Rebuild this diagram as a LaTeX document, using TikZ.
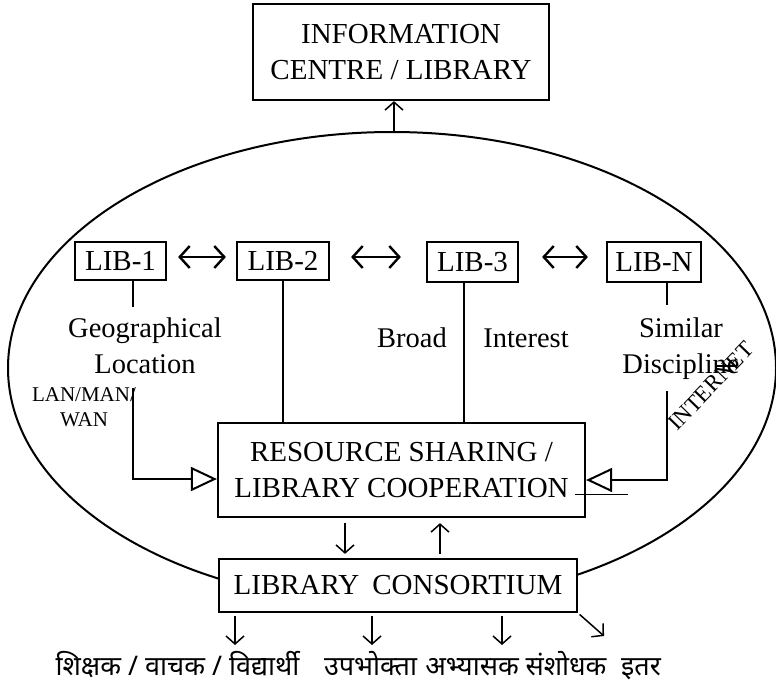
\documentclass[tikz,border=0pt]{standalone}
\usepackage{fontspec}
\setmainfont{Liberation Serif}
\newfontfamily\deva[Script=Devanagari]{Noto Sans}
\usetikzlibrary{arrows.meta}
\begin{document}
\begin{tikzpicture}[x=1pt,y=-1pt,
  box/.style={draw,line width=2.2pt,fill=white,inner sep=0pt,align=center,font=\fontsize{29}{36}\selectfont},
  lbl/.style={inner sep=0pt,anchor=base,font=\fontsize{28.5}{34}\selectfont},
  small/.style={inner sep=0pt,anchor=base,font=\fontsize{21}{25}\selectfont},
  dev/.style={inner sep=0pt,anchor=base,font=\deva\fontsize{27}{32}\selectfont},
  lnk/.style={line width=2pt},
  arr/.style={line width=1.5pt,-{Straight Barb[length=8pt,width=18pt]}},
  dbl/.style={line width=2.4pt,{Straight Barb[length=10pt,width=22pt]}-{Straight Barb[length=10pt,width=22pt]}},
  tri/.style={line width=2pt,-{Triangle[open,length=26pt,width=24pt]}}]
\useasboundingbox (0,0) rectangle (776,685);
\draw[line width=2pt] (392,368) ellipse [x radius=384, y radius=236];

\node[box,minimum width=296pt,minimum height=96pt] (info) at (401,52) {INFORMATION\\CENTRE / LIBRARY};
\node[box,minimum width=91pt,minimum height=38pt] (lib1) at (120.5,261) {LIB-1};
\node[box,minimum width=92pt,minimum height=38pt] (lib2) at (283,261) {LIB-2};
\node[box,minimum width=91pt,minimum height=40pt] (lib3) at (472.5,262) {LIB-3};
\node[box,minimum width=94pt,minimum height=40pt] (libn) at (654,262) {LIB-N};
\node[box,minimum width=367pt,minimum height=94pt] (rs) at (401.5,470) {RESOURCE SHARING /\\LIBRARY COOPERATION};
\node[box,minimum width=358pt,minimum height=53pt] (cons) at (398,585.5) {LIBRARY\hspace{0.2em} CONSORTIUM};

\node[lbl] (geo1) at (145,337) {Geographical};
\node[lbl] (geo2) at (145,373) {Location};
\node[lbl] (broad) at (412,347) {Broad};
\node[lbl] (inter) at (526,347) {Interest};
\node[lbl] (sim1) at (681,337) {Similar};
\node[lbl] (sim2) at (681,373) {Discipline};
\node[small] (lan1) at (84,401) {LAN/MAN/};
\node[small] (lan2) at (84,426) {WAN};
\node[small,font=\fontsize{23}{26}\selectfont,anchor=center,rotate=46] (inet) at (711,386) {INTERNET};

\node[dev] (d1) at (177.5,675) {शिक्षक / वाचक / विद्यार्थी};
\node[dev] (d2) at (370.5,675) {उपभोक्ता};
\node[dev] (d3) at (472,675) {अभ्यासक};
\node[dev] (d4) at (566,675) {संशोधक};
\node[dev] (d5) at (641,675) {इतर};

\coordinate (etop) at (394,132);
\draw[arr] (etop) -- (info.south -| etop);

\draw[dbl] ([xshift=11pt,yshift=4pt]lib1.east) -- ([xshift=-10pt,yshift=4pt]lib2.west);
\draw[dbl] ([xshift=21pt,yshift=4pt]lib2.east) -- ([xshift=-25pt,yshift=5pt]lib3.west);
\draw[dbl] ([xshift=23pt,yshift=5pt]lib3.east) -- ([xshift=-18pt,yshift=5pt]libn.west);

\coordinate (g1) at (133,307);
\draw[lnk] (lib1.south -| g1) -- (g1);
\draw[lnk] (lib2.south) -- (rs.north -| lib2.south);
\coordinate (l3) at (464,0);
\draw[lnk] (lib3.south -| l3) -- (rs.north -| l3);
\coordinate (gn) at (667,305);
\draw[lnk] (libn.south -| gn) -- (gn);

\coordinate (lt) at (133,388);
\coordinate (lc) at (133,479);
\draw[tri] (lt) -- (lc) -- (rs.west |- lc);
\coordinate (rt) at (667,391);
\coordinate (rc) at (667,480);
\draw[tri] (rt) -- (rc) -- (rs.east |- rc);

\coordinate (s1) at (575,494);
\coordinate (s2) at (628,494);
\draw[line width=1pt] (s1) -- (s2);
\coordinate (s3) at (715,366);
\coordinate (s4) at (737,366);
\draw[line width=1.5pt] (s3) -- (s4);

\coordinate (m1) at (345,0);
\coordinate (m2) at (440,0);
\draw[arr,shorten <=5pt,shorten >=4pt] (rs.south -| m1) -- (cons.north -| m1);
\draw[arr,shorten <=4pt,shorten >=5pt] (cons.north -| m2) -- (rs.south -| m2);

\coordinate (b1) at (235,645);
\coordinate (b2) at (372,645);
\coordinate (b3) at (502,645);
\coordinate (b4) at (604,636);
\draw[arr,shorten <=3pt] (cons.south -| b1) -- (b1);
\draw[arr,shorten <=3pt] (cons.south -| b2) -- (b2);
\draw[arr,shorten <=3pt] (cons.south -| b3) -- (b3);
\draw[arr,shorten <=2pt] (cons.south east) -- (b4);
\end{tikzpicture}
\end{document}
